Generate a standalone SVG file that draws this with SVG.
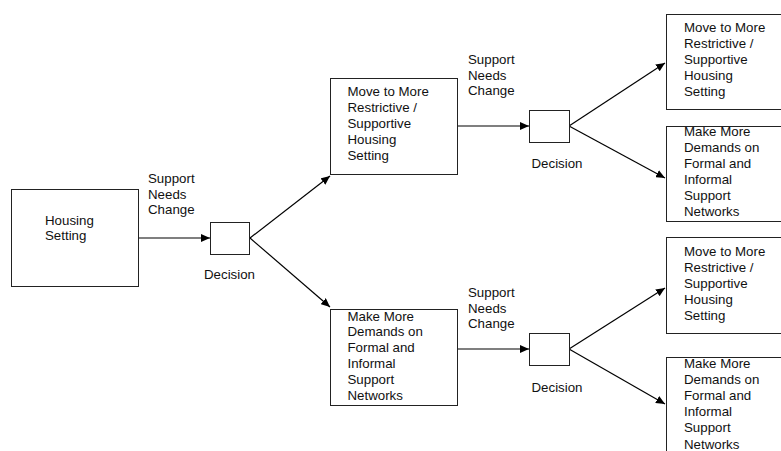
<svg xmlns="http://www.w3.org/2000/svg" width="781" height="451" viewBox="0 0 781 451">
<style>
.box{fill:#fff;stroke:#222;stroke-width:1}
.t{font-family:"Liberation Sans",Arial,sans-serif;font-size:13.3px;fill:#111}
.c{stroke:#000;stroke-width:1.2;fill:none;marker-end:url(#ah)}
</style>
<defs>
<marker id="ah" markerUnits="userSpaceOnUse" markerWidth="10" markerHeight="8" refX="9" refY="4" orient="auto">
<path d="M0,0 L9,4 L0,8 Z" fill="#000"/>
</marker>
</defs>
<rect width="781" height="451" fill="#fff"/>
<g id="connectors">
<line class="c" x1="138" y1="238" x2="210" y2="238"/>
<line class="c" x1="250" y1="238" x2="330" y2="176"/>
<line class="c" x1="250" y1="238" x2="330" y2="307"/>
<line class="c" x1="458" y1="126" x2="529" y2="126"/>
<line class="c" x1="458" y1="349" x2="529" y2="349"/>
<line class="c" x1="569" y1="126" x2="665" y2="63"/>
<line class="c" x1="569" y1="126" x2="665" y2="178"/>
<line class="c" x1="569" y1="349" x2="665" y2="288"/>
<line class="c" x1="569" y1="349" x2="665" y2="404"/>
</g>
<g id="housing">
<rect class="box" x="11.5" y="189.5" width="127" height="97"/>
<text class="t" x="45" y="225">Housing<tspan x="45" dy="15">Setting</tspan></text>
</g>
<g id="label1">
<text class="t" x="148" y="183">Support<tspan x="148" dy="15.6">Needs</tspan><tspan x="148" dy="15.6">Change</tspan></text>
</g>
<g id="decision1">
<rect class="box" x="210.5" y="222.5" width="39" height="32"/>
<text class="t" x="204" y="279">Decision</text>
</g>
<g id="move1">
<rect class="box" x="330.5" y="78.5" width="127" height="96"/>
<text class="t" x="347.5" y="96.4">Move to More<tspan x="347.5" dy="15.8">Restrictive /</tspan><tspan x="347.5" dy="15.8">Supportive</tspan><tspan x="347.5" dy="15.8">Housing</tspan><tspan x="347.5" dy="15.8">Setting</tspan></text>
</g>
<g id="demands1">
<rect class="box" x="330.5" y="309.5" width="127" height="96"/>
<text class="t" x="347.5" y="320.5">Make More<tspan x="347.5" dy="15.8">Demands on</tspan><tspan x="347.5" dy="15.8">Formal and</tspan><tspan x="347.5" dy="15.8">Informal</tspan><tspan x="347.5" dy="15.8">Support</tspan><tspan x="347.5" dy="15.8">Networks</tspan></text>
</g>
<g id="label2">
<text class="t" x="468" y="64">Support<tspan x="468" dy="15.5">Needs</tspan><tspan x="468" dy="15.5">Change</tspan></text>
</g>
<g id="label3">
<text class="t" x="468" y="297">Support<tspan x="468" dy="15.5">Needs</tspan><tspan x="468" dy="15.5">Change</tspan></text>
</g>
<g id="decision2">
<rect class="box" x="529.5" y="110.5" width="40" height="32"/>
<text class="t" x="531.5" y="168">Decision</text>
</g>
<g id="decision3">
<rect class="box" x="529.5" y="333.5" width="40" height="32"/>
<text class="t" x="531.5" y="392">Decision</text>
</g>
<g id="move2">
<rect class="box" x="666.5" y="14.5" width="120" height="95"/>
<text class="t" x="684" y="32">Move to More<tspan x="684" dy="16">Restrictive /</tspan><tspan x="684" dy="16">Supportive</tspan><tspan x="684" dy="16">Housing</tspan><tspan x="684" dy="16">Setting</tspan></text>
</g>
<g id="demands2">
<rect class="box" x="666.5" y="126.5" width="120" height="95"/>
<text class="t" x="684" y="136.4">Make More<tspan x="684" dy="15.9">Demands on</tspan><tspan x="684" dy="15.9">Formal and</tspan><tspan x="684" dy="15.9">Informal</tspan><tspan x="684" dy="15.9">Support</tspan><tspan x="684" dy="15.9">Networks</tspan></text>
</g>
<g id="move3">
<rect class="box" x="666.5" y="237.5" width="120" height="96"/>
<text class="t" x="684" y="256.4">Move to More<tspan x="684" dy="16">Restrictive /</tspan><tspan x="684" dy="16">Supportive</tspan><tspan x="684" dy="16">Housing</tspan><tspan x="684" dy="16">Setting</tspan></text>
</g>
<g id="demands3">
<rect class="box" x="666.5" y="357.5" width="120" height="100"/>
<text class="t" x="684" y="368">Make More<tspan x="684" dy="16.1">Demands on</tspan><tspan x="684" dy="16.1">Formal and</tspan><tspan x="684" dy="16.1">Informal</tspan><tspan x="684" dy="16.1">Support</tspan><tspan x="684" dy="16.1">Networks</tspan></text>
</g>
</svg>
